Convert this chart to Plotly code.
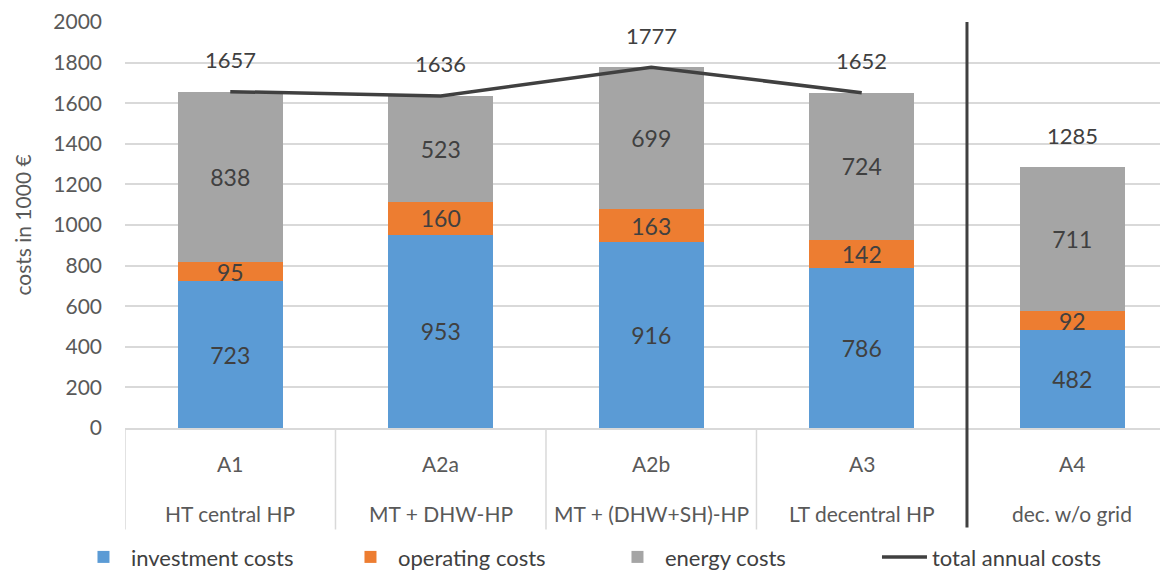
import plotly.graph_objects as go

# variants and their labels
codes = ["A1", "A2a", "A2b", "A3", "A4"]
names = ["HT central HP", "MT + DHW-HP", "MT + (DHW+SH)-HP", "LT decentral HP", "dec. w/o grid"]

investment = [723, 953, 916, 786, 482]
operating = [95, 160, 163, 142, 92]
energy = [838, 523, 699, 724, 711]
totals = [1657, 1636, 1777, 1652, 1285]

txt = "#404040"
font = "Lato, 'Open Sans', sans-serif"

fig = go.Figure()

for label, vals, col in [("investment costs", investment, "#5B9BD5"),
                         ("operating costs", operating, "#ED7D31"),
                         ("energy costs", energy, "#A5A5A5")]:
    fig.add_trace(go.Bar(
        x=codes, y=vals, name=label,
        marker=dict(color=col, line=dict(width=0)),
        text=[str(v) for v in vals],
        textposition="inside", insidetextanchor="middle", textangle=0,
        constraintext="none",
        textfont=dict(size=23, color=txt, family=font),
        hoverinfo="skip",
    ))

# total line only for the grid variants (A1..A3)
fig.add_trace(go.Scatter(
    x=codes[:4], y=totals[:4], name="total annual costs",
    mode="lines", line=dict(color="#404040", width=3.5),
))

# total labels above bars
for c, t in zip(codes, totals):
    fig.add_annotation(x=c, y=t, text=str(t), showarrow=False, yshift=32,
                       font=dict(size=22, color=txt, family=font))

# two-row category labels under the axis
for c, n in zip(codes, names):
    fig.add_annotation(x=c, y=0, yref="paper", yanchor="middle", text=c, showarrow=False,
                       yshift=-35, font=dict(size=21, color="#595959", family=font))
    fig.add_annotation(x=c, y=0, yref="paper", yanchor="middle", text=n, showarrow=False,
                       yshift=-85, font=dict(size=21, color="#595959", family=font))

# light category dividers below the axis
for i in range(len(codes) + 1):
    if i == 4:
        continue
    fig.add_shape(type="line", xref="x", yref="paper", x0=i - 0.5, x1=i - 0.5,
                  y0=0, y1=-0.25, line=dict(color="#D9D9D9", width=1.5))

# dark separator between central and decentral variants
fig.add_shape(type="line", xref="x", yref="paper", x0=3.5, x1=3.5,
              y0=1, y1=-0.245, line=dict(color="#404040", width=3))

# the page body has an 8px margin, so the figure is shifted 8px right/down
fig.update_layout(
    barmode="stack",
    bargap=0.5,
    width=1160, height=571,
    margin=dict(l=117, r=0, t=14, b=151),
    plot_bgcolor="white", paper_bgcolor="white",
    font=dict(family=font, color="#595959", size=17),
    showlegend=True,
    legend=dict(orientation="h", x=-0.047, xanchor="left", y=-0.318, yanchor="middle",
                font=dict(size=22, color="#404040"), itemwidth=45,
                entrywidth=207, traceorder="normal"),
    xaxis=dict(showticklabels=False, showline=True, linecolor="#D9D9D9", linewidth=1.5,
               range=[-0.5, 4.455], fixedrange=True, automargin=False),
    yaxis=dict(range=[0, 2000], dtick=200, showgrid=True, gridcolor="#D9D9D9", gridwidth=1.5,
               zeroline=False, showline=False, ticklabelstandoff=22, automargin=False,
               tickfont=dict(size=21, color="#595959"),
               title=dict(text="costs in 1000 €", font=dict(size=21, color="#595959"), standoff=15)),
)

fig.write_html("out.html")
